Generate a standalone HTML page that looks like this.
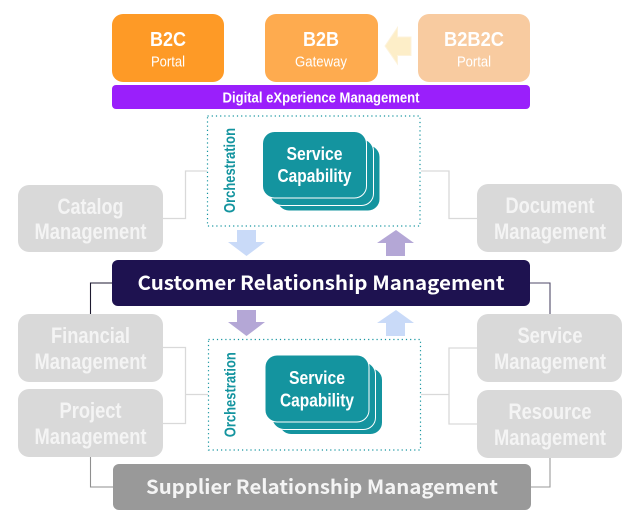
<!DOCTYPE html>
<html><head><meta charset="utf-8"><style>
html,body{margin:0;padding:0;background:#fff}
svg{display:block}
text{font-family:"Liberation Sans",sans-serif;text-anchor:middle;fill:#fff}
.b{font-weight:bold}
.g{font-size:22px;font-weight:bold;fill:#f4f4f4}
.s{font-size:18.500px;font-weight:bold}
.o{font-size:16px;font-weight:bold;fill:#14949f}
.t{font-family:"Noto Sans CJK SC","DejaVu Sans",sans-serif;font-size:19.500px;font-weight:bold}
</style></head><body>
<svg width="640" height="522" viewBox="0 0 640 522" xmlns="http://www.w3.org/2000/svg">
<rect x="112" y="14" width="112" height="68" rx="11" fill="#fe9a26"/>
<rect x="265" y="14" width="113" height="68" rx="11" fill="#feab4f"/>
<rect x="418" y="14" width="112" height="68" rx="11" fill="#f8cba0"/>
<text x="168" y="46" class="b" font-size="20.500" textLength="36" lengthAdjust="spacingAndGlyphs">B2C</text>
<text x="168" y="66.500" font-size="15" textLength="34" lengthAdjust="spacingAndGlyphs">Portal</text>
<text x="321" y="46" class="b" font-size="20.500" textLength="36" lengthAdjust="spacingAndGlyphs">B2B</text>
<text x="321" y="66.500" font-size="15" textLength="52" lengthAdjust="spacingAndGlyphs">Gateway</text>
<text x="474" y="46" class="b" font-size="20.500" textLength="60" lengthAdjust="spacingAndGlyphs">B2B2C</text>
<text x="474" y="66.500" font-size="15" textLength="34" lengthAdjust="spacingAndGlyphs">Portal</text>
<path d="M385 46 L397.500 27.500 V37 H411 V55.500 H397.500 V64 Z" fill="#fdeec8" stroke="#fdf3dc" stroke-width="1"/>
<rect x="112" y="85" width="418" height="24" rx="4" fill="#9a1ffb"/>
<text x="321" y="102.500" class="b" font-size="14.500" textLength="197" lengthAdjust="spacingAndGlyphs">Digital eXperience Management</text>

<g fill="none" stroke="#d9d9d9" stroke-width="1.300">
<path d="M163 218.500H185.500V171H207"/>
<path d="M421 171H449V218.500H477"/>
<path d="M163 347.500H185.500V423.500H163M185.500 394.500H208"/>
<path d="M477 348H449V424H477M421 394.500H449"/>
</g>
<g fill="none" stroke-width="1.100">
<path d="M112 283H90.500V314" stroke="#1e1a30"/>
<path d="M530 283H550V314" stroke="#4f4a68"/>
<path d="M90.500 457V487H113" stroke="#8f8f8f"/>
<path d="M550 458V487H531" stroke="#9a9a9a"/>
</g>

<rect x="207.500" y="116" width="212.500" height="110" fill="none" stroke="#14949f" stroke-width="1.200" stroke-dasharray="1.200 3"/>
<rect x="208.500" y="339.500" width="212" height="110.500" fill="none" stroke="#14949f" stroke-width="1.200" stroke-dasharray="1.200 3"/>

<g fill="#14949f" stroke="#fff" stroke-width="1">
<rect x="277" y="145" width="103" height="66" rx="12"/>
<rect x="270" y="139" width="103.500" height="66.500" rx="12"/>
<rect x="262.500" y="131.500" width="104" height="66.500" rx="12"/>
<rect x="279" y="368" width="103.500" height="66.500" rx="12"/>
<rect x="272" y="362" width="103.500" height="67.500" rx="12"/>
<rect x="265" y="355" width="104" height="67" rx="12"/>
</g>
<text x="314.500" y="160" class="s" textLength="56" lengthAdjust="spacingAndGlyphs">Service</text>
<text x="314.500" y="182" class="s" textLength="74" lengthAdjust="spacingAndGlyphs">Capability</text>
<text x="317" y="384" class="s" textLength="56" lengthAdjust="spacingAndGlyphs">Service</text>
<text x="317" y="406.500" class="s" textLength="74" lengthAdjust="spacingAndGlyphs">Capability</text>
<text transform="translate(235 170.500) rotate(-90)" class="o" textLength="85" lengthAdjust="spacingAndGlyphs">Orchestration</text>
<text transform="translate(235.500 394.700) rotate(-90)" class="o" textLength="85" lengthAdjust="spacingAndGlyphs">Orchestration</text>

<g fill="#d9d9d9">
<rect x="18" y="185" width="145" height="67" rx="11"/>
<rect x="477" y="184" width="145" height="68" rx="11"/>
<rect x="18" y="314" width="145" height="68" rx="11"/>
<rect x="18" y="389" width="145" height="68" rx="11"/>
<rect x="477" y="314" width="145" height="68" rx="11"/>
<rect x="477" y="390" width="145" height="68" rx="11"/>
</g>
<text x="90.500" y="214" class="g" textLength="66" lengthAdjust="spacingAndGlyphs">Catalog</text>
<text x="90.500" y="239" class="g" textLength="112" lengthAdjust="spacingAndGlyphs">Management</text>
<text x="550" y="213" class="g" textLength="89" lengthAdjust="spacingAndGlyphs">Document</text>
<text x="550" y="239" class="g" textLength="112" lengthAdjust="spacingAndGlyphs">Management</text>
<text x="90.500" y="343" class="g" textLength="79" lengthAdjust="spacingAndGlyphs">Financial</text>
<text x="90.500" y="369" class="g" textLength="112" lengthAdjust="spacingAndGlyphs">Management</text>
<text x="90.500" y="418" class="g" textLength="62" lengthAdjust="spacingAndGlyphs">Project</text>
<text x="90.500" y="444" class="g" textLength="112" lengthAdjust="spacingAndGlyphs">Management</text>
<text x="550" y="343" class="g" textLength="65" lengthAdjust="spacingAndGlyphs">Service</text>
<text x="550" y="369" class="g" textLength="112" lengthAdjust="spacingAndGlyphs">Management</text>
<text x="550" y="419" class="g" textLength="83" lengthAdjust="spacingAndGlyphs">Resource</text>
<text x="550" y="445" class="g" textLength="112" lengthAdjust="spacingAndGlyphs">Management</text>

<path d="M237 230H256V242H265L246.500 256L228 242H237Z" fill="#c9daf8"/>
<path d="M396 230L414 243H405V256H386V243H377Z" fill="#b4a7d6"/>
<path d="M237 310H256V322H265L246.500 336L228 322H237Z" fill="#b4a7d6"/>
<path d="M396 310L414 323H405V336H386V323H377Z" fill="#c9daf8"/>

<rect x="112" y="260" width="418" height="46" rx="6" fill="#1e1250"/>
<text x="321" y="290" class="t" textLength="367" lengthAdjust="spacingAndGlyphs">Customer Relationship Management</text>
<rect x="113" y="464" width="418" height="46" rx="6" fill="#999999"/>
<text x="322" y="494" class="t" style="fill:#f4f4f4" textLength="352" lengthAdjust="spacingAndGlyphs">Supplier Relationship Management</text>
</svg>
</body></html>
